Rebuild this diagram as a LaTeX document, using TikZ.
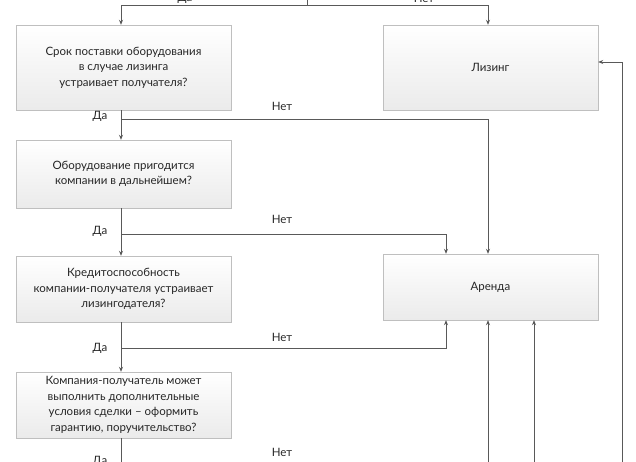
\documentclass[tikz,border=0pt]{standalone}
\usepackage{fontspec}
\setmainfont{Lato}
\usetikzlibrary{arrows.meta,shadows}
\begin{document}
\begin{tikzpicture}[x=1pt,y=-1pt,
  box/.style={draw=black!25,top color=white,bottom color=black!8,minimum width=215pt,align=center,font=\fontsize{11.5}{15.5}\selectfont,text=black!85,drop shadow={shadow xshift=1pt,shadow yshift=-1pt,opacity=0.25}},
  lbl/.style={font=\fontsize{11.5}{13}\selectfont,text=black!85},
  ln/.style={draw=black!65,line width=0.7pt},
  arr/.style={ln,-{Stealth[length=5pt,width=4pt]}}]
\useasboundingbox (0,0) rectangle (636,461);
\clip (0,0) rectangle (636,461);
\node[box,minimum height=85pt] (b1) at (123.5,67.5) {Срок поставки оборудования\\в случае лизинга\\устраивает получателя?};
\node[box,minimum height=85pt] (liz) at (490.5,67.5) {Лизинг};
\node[box,minimum height=68pt] (b2) at (123.5,174) {Оборудование пригодится\\компании в дальнейшем?};
\node[box,minimum height=66pt] (b3) at (123.5,289) {Кредитоспособность\\компании-получателя устраивает\\лизингодателя?};
\node[box,minimum height=66pt] (ar) at (490.5,287) {Аренда};
\node[box,minimum height=66pt] (b4) at (123.5,405) {Компания-получатель может\\выполнить дополнительные\\условия сделки -- оформить\\гарантию, поручительство?};
% top
\coordinate (t0) at (307,-5);
\coordinate (tl) at (121,5);
\coordinate (tr) at (488,5);
\draw[ln] (t0) -- (307,5);
\draw[arr] (tl) -- (tl |- b1.north);
\draw[arr] (tl) -- (tr) -- (tr |- liz.north);
\node[lbl] (da0) at (185,-2) {Да};
\node[lbl] (net0) at (424,-2) {Нет};
% level 1
\coordinate (j1) at (121,119);
\draw[arr] (b1.south -| j1) -- (j1 |- b2.north);
\draw[arr] (j1) -- (488,119) -- (488,0 |- ar.north);
\node[lbl] (da1) at (100,116) {Да};
\node[lbl] (net1) at (282,106) {Нет};
% level 2
\coordinate (j2) at (121,234);
\draw[arr] (b2.south -| j2) -- (j2 |- b3.north);
\draw[arr] (j2) -- (446,234) -- (446,0 |- ar.north);
\node[lbl] (da2) at (100,231) {Да};
\node[lbl] (net2) at (282,219) {Нет};
% level 3
\coordinate (j3) at (121,348);
\draw[arr] (b3.south -| j3) -- (j3 |- b4.north);
\draw[arr] (j3) -- (446,348) -- (446,0 |- ar.south);
\node[lbl] (da3) at (100,348) {Да};
\node[lbl] (net3) at (282,337) {Нет};
% level 4
\coordinate (j4) at (121,470);
\draw[ln] (b4.south -| j4) -- (j4);
\node[lbl] (da4) at (100,461) {Да};
\node[lbl] (net4) at (282,452) {Нет};
% bottom risers
\draw[arr] (488,470) -- (488,0 |- ar.south);
\draw[arr] (534,470) -- (534,0 |- ar.south);
\draw[arr] (622,470) -- (622,62) -- (liz.east |- 0,62);
\end{tikzpicture}
\end{document}
